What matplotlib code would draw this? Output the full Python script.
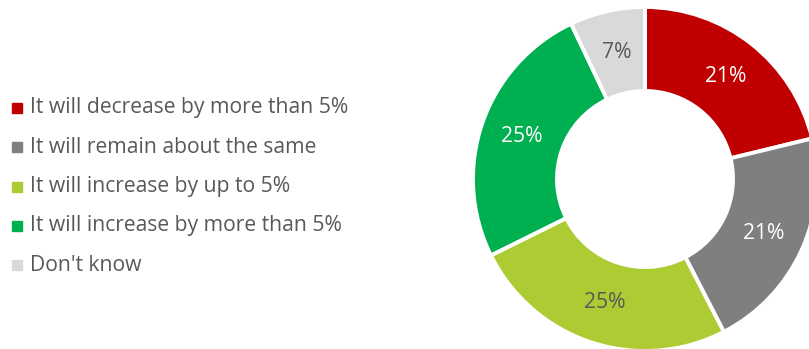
import matplotlib
matplotlib.use("Agg")
import matplotlib.pyplot as plt

plt.rcParams['font.family'] = ['Open Sans', 'DejaVu Sans']

categories = [
    "It will decrease by more than 5%",
    "It will remain about the same",
    "It will increase by up to 5%",
    "It will increase by more than 5%",
    "Don't know",
]
values = [21, 21, 25, 25, 7]
colors = ["#C00000", "#7F7F7F", "#ADCB33", "#00B050", "#D9D9D9"]
label_colors = ["white", "white", "#595959", "white", "#595959"]

W, H = 809, 349
fig = plt.figure(figsize=(W / 100, H / 100), dpi=100)
ax = fig.add_axes([0, 0, 1, 1])

outer_r = 172
ring_w = 84
cx, cy = 645, H - 179

wedges, texts = ax.pie(
    values,
    colors=colors,
    startangle=90,
    counterclock=False,
    radius=outer_r,
    center=(cx, cy),
    labels=[f"{v}%" for v in values],
    labeldistance=(outer_r - ring_w / 2) / outer_r,
    wedgeprops=dict(width=ring_w, edgecolor="white", linewidth=2.8),
    textprops=dict(fontsize=15.2),
    frame=True,
)
for t, c in zip(texts, label_colors):
    t.set_color(c)
    t.set_ha("center")
    t.set_va("center")
ax.set_xlim(0, W)
ax.set_ylim(0, H)
ax.set_aspect("equal")
ax.axis("off")

# legend drawn as square markers and text rows
y0 = H - 108
step = 39.3
for i, (name, col) in enumerate(zip(categories, colors)):
    y = y0 - i * step
    ax.plot(17.5, y, marker="s", markersize=6.5, color=col, linestyle="none")
    ax.text(30, y, name, fontsize=15.2, color="#595959", ha="left", va="center")

fig.savefig("out.png", dpi=100)
